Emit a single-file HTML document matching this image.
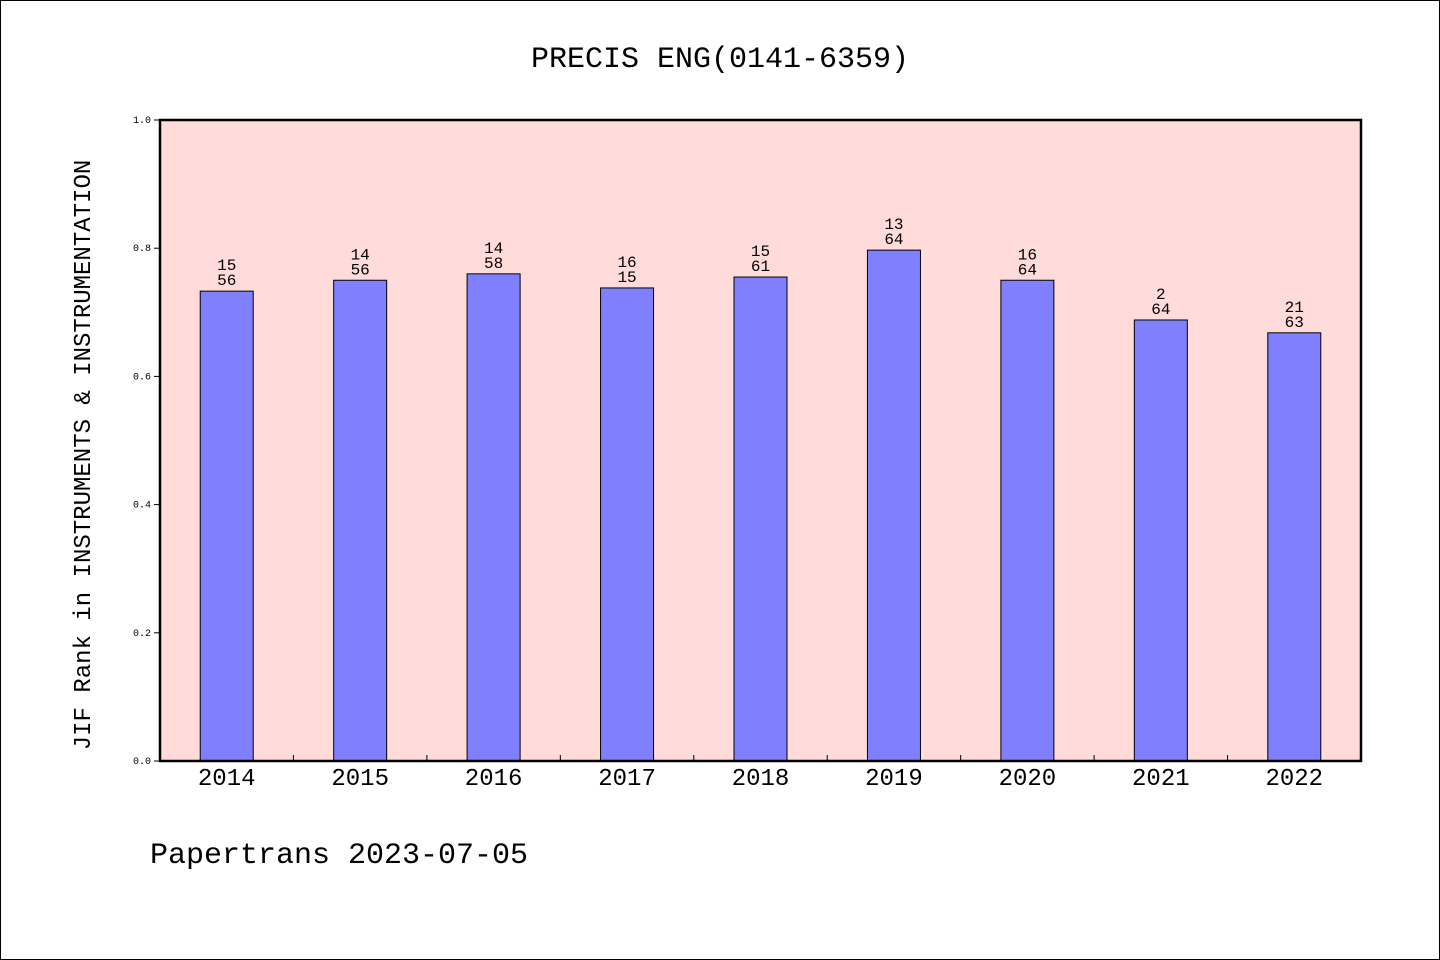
<!DOCTYPE html>
<html><head><meta charset="utf-8"><style>
body{margin:0;background:#fff}
svg{display:block}
text{font-family:"WenQuanYi Zen Hei Mono","WenQuanYi Zen Hei","Liberation Mono",monospace;fill:#000}
</style></head><body>
<svg id="c" width="1440" height="960" xmlns="http://www.w3.org/2000/svg">
<rect x="0.5" y="0.5" width="1439" height="959" fill="#fff" stroke="#000"/>
<text x="720" y="67" font-size="30" text-anchor="middle">PRECIS ENG(0141-6359)</text>
<rect x="160" y="120" width="1201" height="641" fill="#ffdbd9"/>
<g id="bars"></g>
<rect x="160" y="120" width="1201" height="641" fill="none" stroke="#000" stroke-width="2.5"/>
<text transform="translate(90,455) rotate(-90)" font-size="24" text-anchor="middle">JIF Rank in INSTRUMENTS &amp; INSTRUMENTATION</text>
<text x="150" y="863" font-size="30">Papertrans 2023-07-05</text>
</svg>
<script>
const categories=["2014","2015","2016","2017","2018","2019","2020","2021","2022"];
const values=[0.733,0.750,0.760,0.738,0.755,0.797,0.750,0.688,0.668];
const rankTop=["15","14","14","16","15","13","16","2","21"];
const rankBottom=["56","56","58","15","61","64","64","64","63"];
const yTicks=[0,0.2,0.4,0.6,0.8,1.0];
const yTickLabels=["0.0","0.2","0.4","0.6","0.8","1.0"];
const X0=160,X1=1361,Y0=761,Y1=120;
const ns="http://www.w3.org/2000/svg";
const g=document.getElementById('bars');
const bw=(X1-X0)/categories.length;
function y(v){return Y0-(Y0-Y1)*v;}
function xc(i){return X0+bw*(i+0.5);}
function mk(t,a,txt){const e=document.createElementNS(ns,t);for(const k in a)e.setAttribute(k,a[k]);if(txt!==undefined)e.textContent=txt;g.appendChild(e);return e;}
categories.forEach((c,i)=>{
  const r=mk('rect',{x:xc(i)-26.5,y:y(values[i]),width:53,height:Y0-y(values[i]),fill:'#8080ff',stroke:'#000','stroke-width':1});
  
  
  const t1=mk('text',{x:xc(i),y:y(values[i])-21,'font-size':16,'text-anchor':'middle'},rankTop[i]);
  
  
  const t2=mk('text',{x:xc(i),y:y(values[i])-6,'font-size':16,'text-anchor':'middle'},rankBottom[i]);
  
  
  const xl=mk('text',{x:xc(i),y:785,'font-size':24,'text-anchor':'middle'},c);
  
  
  if(i>0){const tk=mk('line',{x1:X0+bw*i,x2:X0+bw*i,y1:Y0,y2:Y0-6,stroke:'#000'});
  
  }
});
yTicks.forEach((v,i)=>{
  const l=mk('line',{x1:X0-6,x2:X0,y1:y(v),y2:y(v),stroke:'#000'});
  
  
  const t=mk('text',{x:151,y:y(v)+3,'font-size':10,'text-anchor':'end'},yTickLabels[i]);
  
  
});
</script>
</body></html>
